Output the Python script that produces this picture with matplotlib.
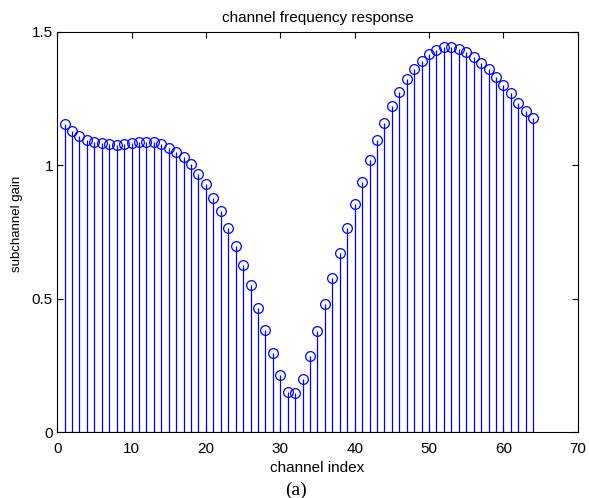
import numpy as np
import matplotlib.pyplot as plt

plt.rcParams.update({
    "font.family": "sans-serif",
    "font.sans-serif": ["Liberation Sans", "DejaVu Sans"],
    "font.size": 9,
    "xtick.direction": "in",
    "ytick.direction": "in",
    "xtick.top": True,
    "ytick.right": True,
})

channel = np.arange(1, 65)
gain = [1.154, 1.130, 1.110, 1.095, 1.086, 1.082, 1.079, 1.077, 1.080, 1.082,
        1.087, 1.089, 1.086, 1.079, 1.064, 1.050, 1.030, 1.003, 0.969, 0.928,
        0.879, 0.827, 0.764, 0.697, 0.627, 0.550, 0.466, 0.382, 0.295, 0.215,
        0.150, 0.145, 0.199, 0.286, 0.379, 0.480, 0.576, 0.672, 0.763, 0.854,
        0.939, 1.020, 1.095, 1.160, 1.221, 1.275, 1.322, 1.361, 1.392, 1.416,
        1.432, 1.442, 1.442, 1.437, 1.424, 1.407, 1.385, 1.360, 1.330, 1.301,
        1.270, 1.235, 1.205, 1.176]

fig = plt.figure(figsize=(5.89, 4.98), dpi=100)
ax = fig.add_axes([0.097, 0.1325, 0.884, 0.8035])

markerline, stemlines, baseline = ax.stem(channel, gain, basefmt="k-")
plt.setp(stemlines, color="blue", linewidth=0.9)
plt.setp(markerline, color="blue", marker="o", markersize=7,
         markerfacecolor="none", markeredgewidth=0.9)
plt.setp(baseline, linewidth=0.8)

ax.set_xlim(0, 70)
ax.set_ylim(0, 1.5)
ax.set_xticks(range(0, 71, 10))
ax.set_yticks([0, 0.5, 1, 1.5])
ax.set_yticklabels(["0", "0.5", "1", "1.5"])
ax.tick_params(labelsize=11, length=4, width=0.8)
ax.tick_params(axis="x", pad=7)
ax.tick_params(axis="y", pad=3)
for s in ax.spines.values():
    s.set_linewidth(0.8)

ax.set_title("channel frequency response", fontsize=11, pad=7)
ax.set_xlabel("channel index", fontsize=11, labelpad=4)
ax.set_ylabel("subchannel gain", fontsize=9.5)
ax.yaxis.set_label_coords(-0.065, 0.52)
fig.text(0.503, 0.006, "(a)", family="Liberation Serif", fontsize=14,
         ha="center")

fig.savefig("out.png", dpi=100)
